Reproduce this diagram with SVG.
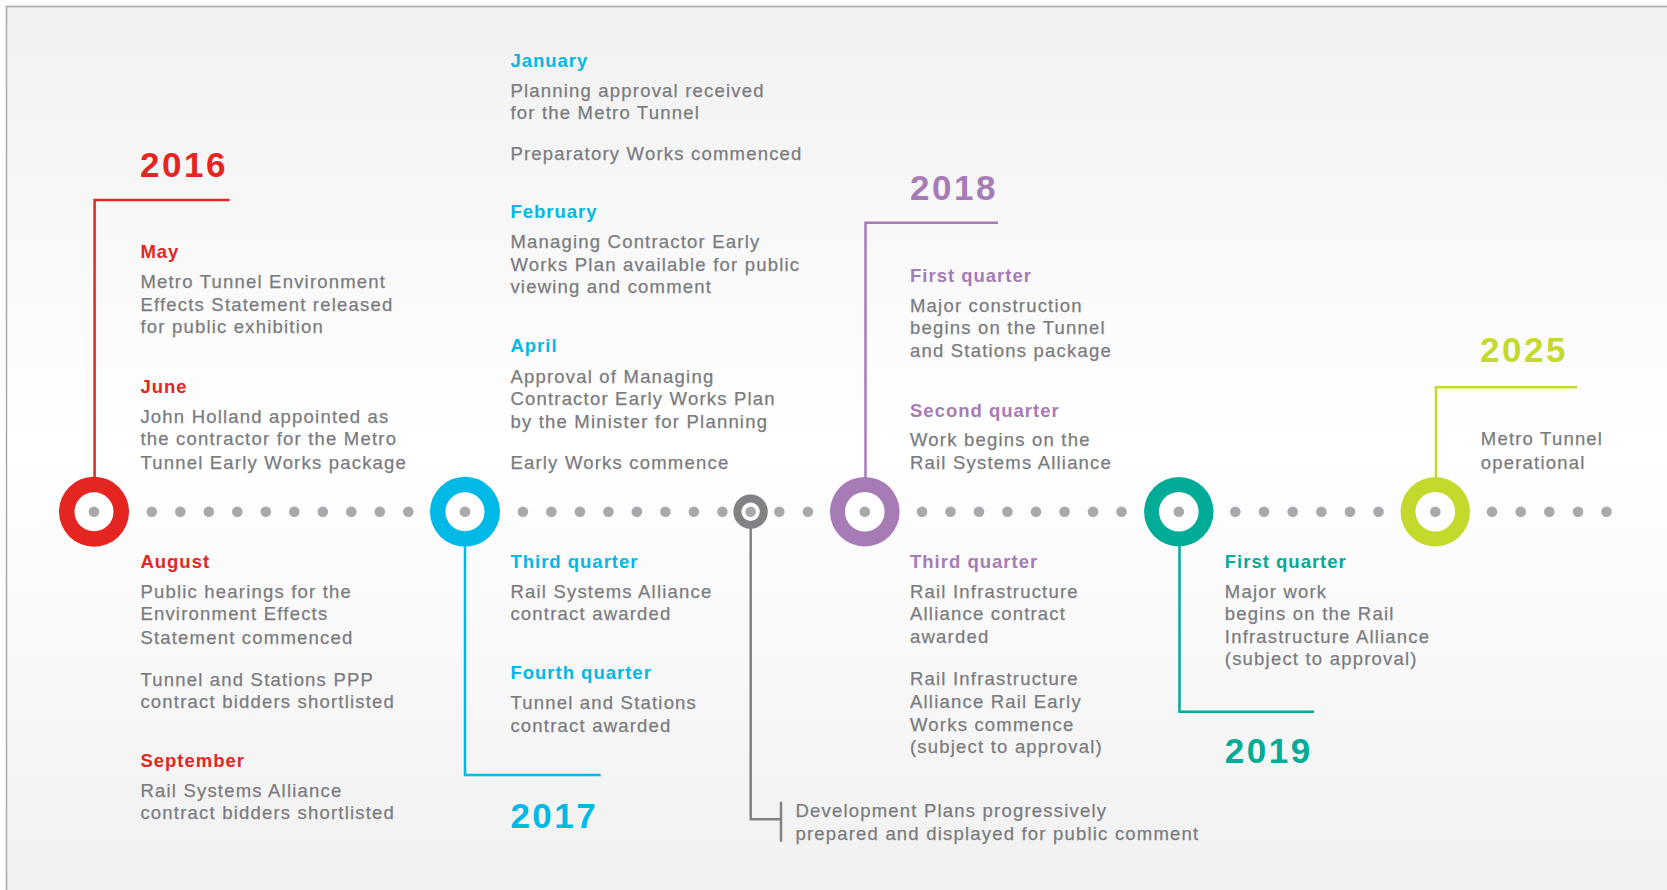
<svg xmlns="http://www.w3.org/2000/svg" width="1667" height="890" viewBox="0 0 1667 890">
<defs>
<linearGradient id="bg" x1="0" y1="0" x2="0" y2="1">
<stop offset="0" stop-color="#f1f1f1"/>
<stop offset="0.5" stop-color="#ffffff"/>
<stop offset="1" stop-color="#f1f1f1"/>
</linearGradient>
</defs>
<style>
text{font-family:"Liberation Sans",Arial,sans-serif}
.b{font-size:18.5px;letter-spacing:1.2px;fill:#7a7b7e;stroke:#7a7b7e;stroke-width:0.25px}
.h{font-size:18.5px;font-weight:bold;letter-spacing:1px}
.y{font-size:35px;font-weight:bold;letter-spacing:2.5px}
.red{fill:#e52521}.blue{fill:#00b9e6}.pur{fill:#a77bb6}.teal{fill:#00ab97}.lime{fill:#c5d92d}
.dot{fill:#a7a9ac}
.ln{fill:none;stroke-width:2.5}
</style>
<rect x="0" y="0" width="1667" height="890" fill="#ffffff"/>
<rect x="7" y="7" width="1660" height="883" fill="url(#bg)"/>
<path d="M6.5 890 V6.5 H1667" fill="none" stroke="#a9a9a9" stroke-width="1.5"/>

<g id="connectors">
<g id="timeline-dots">
<circle class="dot" cx="151.8" cy="511.7" r="5.3"/><circle class="dot" cx="180.3" cy="511.7" r="5.3"/><circle class="dot" cx="208.8" cy="511.7" r="5.3"/><circle class="dot" cx="237.3" cy="511.7" r="5.3"/><circle class="dot" cx="265.8" cy="511.7" r="5.3"/><circle class="dot" cx="294.3" cy="511.7" r="5.3"/><circle class="dot" cx="322.8" cy="511.7" r="5.3"/><circle class="dot" cx="351.3" cy="511.7" r="5.3"/><circle class="dot" cx="379.8" cy="511.7" r="5.3"/><circle class="dot" cx="408.3" cy="511.7" r="5.3"/>
<circle class="dot" cx="522.9" cy="511.7" r="5.3"/><circle class="dot" cx="551.4" cy="511.7" r="5.3"/><circle class="dot" cx="579.9" cy="511.7" r="5.3"/><circle class="dot" cx="608.4" cy="511.7" r="5.3"/><circle class="dot" cx="636.9" cy="511.7" r="5.3"/><circle class="dot" cx="665.4" cy="511.7" r="5.3"/><circle class="dot" cx="693.9" cy="511.7" r="5.3"/><circle class="dot" cx="722.4" cy="511.7" r="5.3"/>
<circle class="dot" cx="779.3" cy="511.7" r="5.3"/><circle class="dot" cx="807.9" cy="511.7" r="5.3"/>
<circle class="dot" cx="922" cy="511.7" r="5.3"/><circle class="dot" cx="950.5" cy="511.7" r="5.3"/><circle class="dot" cx="979" cy="511.7" r="5.3"/><circle class="dot" cx="1007.5" cy="511.7" r="5.3"/><circle class="dot" cx="1036" cy="511.7" r="5.3"/><circle class="dot" cx="1064.5" cy="511.7" r="5.3"/><circle class="dot" cx="1093" cy="511.7" r="5.3"/><circle class="dot" cx="1121.5" cy="511.7" r="5.3"/>
<circle class="dot" cx="1235.3" cy="511.7" r="5.3"/><circle class="dot" cx="1264" cy="511.7" r="5.3"/><circle class="dot" cx="1292.7" cy="511.7" r="5.3"/><circle class="dot" cx="1321.4" cy="511.7" r="5.3"/><circle class="dot" cx="1350" cy="511.7" r="5.3"/><circle class="dot" cx="1378.5" cy="511.7" r="5.3"/>
<circle class="dot" cx="1492" cy="511.7" r="5.3"/><circle class="dot" cx="1520.7" cy="511.7" r="5.3"/><circle class="dot" cx="1549.3" cy="511.7" r="5.3"/><circle class="dot" cx="1578" cy="511.7" r="5.3"/><circle class="dot" cx="1606.5" cy="511.7" r="5.3"/>
</g>
<path class="ln" stroke="#e52521" d="M94.6 480 V200 H229.6"/>
<path class="ln" stroke="#00b9e6" d="M465 545 V775 H600.7"/>
<path class="ln" stroke="#808285" d="M750.7 528 V819.3 H781 M781 801.7 V841.7"/>
<path class="ln" stroke="#a77bb6" d="M865.5 480 V222.7 H998"/>
<path class="ln" stroke="#00ab97" d="M1179.5 545 V711.7 H1314"/>
<path class="ln" stroke="#c5d92d" d="M1436 480 V387.3 H1577"/>
</g>

<g id="node-2016">
<circle class="red" cx="94" cy="511.7" r="35"/><circle cx="94" cy="511.7" r="19.5" fill="#fff"/><circle class="dot" cx="94" cy="511.7" r="5.3"/>
<text class="y red" x="140" y="177">2016</text>
<text class="h red" x="140.4" y="258.3">May</text>
<text class="b" x="140.4" y="288.3">Metro Tunnel Environment</text>
<text class="b" x="140.4" y="311">Effects Statement released</text>
<text class="b" x="140.4" y="333.3">for public exhibition</text>
<text class="h red" x="140.4" y="393.3">June</text>
<text class="b" x="140.4" y="422.7">John Holland appointed as</text>
<text class="b" x="140.4" y="445">the contractor for the Metro</text>
<text class="b" x="140.4" y="469.3">Tunnel Early Works package</text>
<text class="h red" x="140.4" y="568.3">August</text>
<text class="b" x="140.4" y="597.7">Public hearings for the</text>
<text class="b" x="140.4" y="620.3">Environment Effects</text>
<text class="b" x="140.4" y="644">Statement commenced</text>
<text class="b" x="140.4" y="685.7">Tunnel and Stations PPP</text>
<text class="b" x="140.4" y="708.3">contract bidders shortlisted</text>
<text class="h red" x="140.4" y="767.3">September</text>
<text class="b" x="140.4" y="796.7">Rail Systems Alliance</text>
<text class="b" x="140.4" y="819.3">contract bidders shortlisted</text>
</g>

<g id="node-2017">
<circle class="blue" cx="465" cy="511.7" r="35"/><circle cx="465" cy="511.7" r="19.5" fill="#fff"/><circle class="dot" cx="465" cy="511.7" r="5.3"/>
<text class="h blue" x="510.4" y="66.7">January</text>
<text class="b" x="510.4" y="96.7">Planning approval received</text>
<text class="b" x="510.4" y="119">for the Metro Tunnel</text>
<text class="b" x="510.4" y="160">Preparatory Works commenced</text>
<text class="h blue" x="510.4" y="218.3">February</text>
<text class="b" x="510.4" y="248.3">Managing Contractor Early</text>
<text class="b" x="510.4" y="271">Works Plan available for public</text>
<text class="b" x="510.4" y="293.3">viewing and comment</text>
<text class="h blue" x="510.4" y="352.3">April</text>
<text class="b" x="510.4" y="382.7">Approval of Managing</text>
<text class="b" x="510.4" y="405">Contractor Early Works Plan</text>
<text class="b" x="510.4" y="427.7">by the Minister for Planning</text>
<text class="b" x="510.4" y="469.3">Early Works commence</text>
<text class="h blue" x="510.4" y="568.3">Third quarter</text>
<text class="b" x="510.4" y="597.7">Rail Systems Alliance</text>
<text class="b" x="510.4" y="620">contract awarded</text>
<text class="h blue" x="510.4" y="679">Fourth quarter</text>
<text class="b" x="510.4" y="709.3">Tunnel and Stations</text>
<text class="b" x="510.4" y="731.7">contract awarded</text>
<text class="y blue" x="510.4" y="828.3">2017</text>
</g>

<g id="node-development-plans">
<circle cx="750.6" cy="511.7" r="13.2" fill="#fff" stroke="#808285" stroke-width="8"/><circle class="dot" cx="750.6" cy="511.7" r="5.3"/>
<text class="b" x="795.4" y="816.7">Development Plans progressively</text>
<text class="b" x="795.4" y="840">prepared and displayed for public comment</text>
</g>

<g id="node-2018">
<circle class="pur" cx="864.8" cy="511.7" r="34.8"/><circle cx="864.8" cy="511.7" r="19.8" fill="#fff"/><circle class="dot" cx="864.8" cy="511.7" r="5.3"/>
<text class="y pur" x="910" y="200">2018</text>
<text class="h pur" x="910" y="281.7">First quarter</text>
<text class="b" x="910" y="311.7">Major construction</text>
<text class="b" x="910" y="334">begins on the Tunnel</text>
<text class="b" x="910" y="356.7">and Stations package</text>
<text class="h pur" x="910" y="416.7">Second quarter</text>
<text class="b" x="910" y="445.7">Work begins on the</text>
<text class="b" x="910" y="469.3">Rail Systems Alliance</text>
<text class="h pur" x="910" y="567.7">Third quarter</text>
<text class="b" x="910" y="597.7">Rail Infrastructure</text>
<text class="b" x="910" y="620">Alliance contract</text>
<text class="b" x="910" y="642.7">awarded</text>
<text class="b" x="910" y="685">Rail Infrastructure</text>
<text class="b" x="910" y="707.7">Alliance Rail Early</text>
<text class="b" x="910" y="730.7">Works commence</text>
<text class="b" x="910" y="753.3">(subject to approval)</text>
</g>

<g id="node-2019">
<circle class="teal" cx="1178.8" cy="511.7" r="34.7"/><circle cx="1178.8" cy="511.7" r="19.8" fill="#fff"/><circle class="dot" cx="1178.8" cy="511.7" r="5.3"/>
<text class="h teal" x="1224.8" y="567.7">First quarter</text>
<text class="b" x="1224.8" y="597.7">Major work</text>
<text class="b" x="1224.8" y="620">begins on the Rail</text>
<text class="b" x="1224.8" y="642.7">Infrastructure Alliance</text>
<text class="b" x="1224.8" y="665">(subject to approval)</text>
<text class="y teal" x="1224.8" y="763.3">2019</text>
</g>

<g id="node-2025">
<circle class="lime" cx="1435.3" cy="511.7" r="34.7"/><circle cx="1435.3" cy="511.7" r="19.8" fill="#fff"/><circle class="dot" cx="1435.3" cy="511.7" r="5.3"/>
<text class="y lime" x="1480" y="361.7">2025</text>
<text class="b" x="1480.8" y="445">Metro Tunnel</text>
<text class="b" x="1480.8" y="469.3">operational</text>
</g>
</svg>
